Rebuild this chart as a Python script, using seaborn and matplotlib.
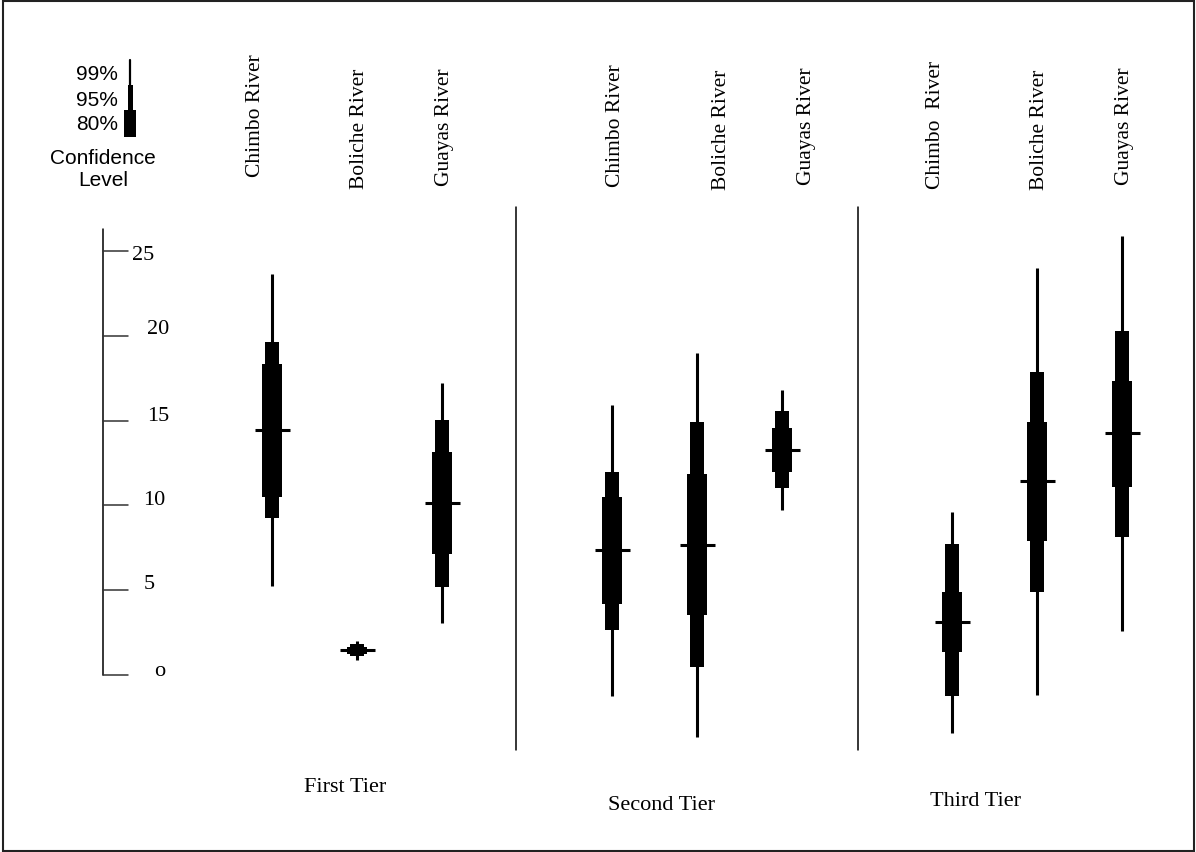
import numpy as np
import pandas as pd
import matplotlib
matplotlib.use("Agg")
import matplotlib.pyplot as plt
import seaborn as sns
from matplotlib.patches import Rectangle
from matplotlib.lines import Line2D

# ---------------- data ----------------
tiers = ["First Tier", "Second Tier", "Third Tier"]
rivers = ["Chimbo River", "Boliche River", "Guayas River"]
river_labels = ["Chimbo River", "Boliche River", "Guayas River",
                "Chimbo River", "Boliche River", "Guayas River",
                "Chimbo  River", "Boliche River", "Guayas River"]
median = [14.43, 1.47, 10.12, 7.35, 7.68, 13.27, 3.12, 11.43, 14.24]
lo80 = [10.51, 1.25, 7.11, 4.19, 3.52, 11.97, 1.33, 7.90, 11.09]
hi80 = [18.34, 1.68, 13.15, 10.51, 11.83, 14.55, 4.92, 14.94, 17.35]
lo95 = [9.28, 1.12, 5.21, 2.67, 0.45, 11.00, -1.22, 4.92, 8.14]
hi95 = [19.62, 1.80, 15.04, 11.99, 14.90, 15.55, 7.71, 17.87, 20.31]
lo99 = [5.25, 0.88, 3.05, -1.24, -3.64, 9.71, -3.41, -1.16, 2.62]
hi99 = [23.64, 2.02, 17.20, 15.92, 19.00, 16.80, 9.60, 23.98, 25.87]
ytick_values = [0, 5, 10, 15, 20, 25]
ytick_labels = ["o", "5", "10", "15", "20", "25"]
legend_labels = ["99%", "95%", "80%"]

# ---------------- layout ----------------
W, H = 1196, 852
sns.set_theme(style="white")
plt.rcParams["font.family"] = ["Liberation Serif", "DejaVu Serif"]
plt.rcParams["text.color"] = "black"
SANS = ["Liberation Sans", "DejaVu Sans"]

fig = plt.figure(figsize=(W / 100, H / 100), dpi=100)
ax = fig.add_axes([0, 0, 1, 1])
UX = 85.0      # px per category slot
UY = 16.96     # px per value unit
X0, Y0 = 272, 675
ax.set_xlim(-X0 / UX, (W - X0) / UX)
ax.set_ylim(-(H - Y0) / UY, Y0 / UY)

def fpx(x, y):
    return x / W, 1 - y / H

n_r = len(rivers)
df = pd.DataFrame({
    "tier": np.repeat(tiers, n_r),
    "river": rivers * len(tiers),
    "label": river_labels,
    "median": median, "lo80": lo80, "hi80": hi80,
    "lo95": lo95, "hi95": hi95, "lo99": lo99, "hi99": hi99,
})
df["pos"] = [ti * (n_r + 1) + ri for ti in range(len(tiers)) for ri in range(n_r)]

# 99% lines
ax.vlines(df["pos"], df["lo99"], df["hi99"], color="black", lw=2.2, zorder=2)
# 95% boxes
ax.bar(df["pos"], df["hi95"] - df["lo95"], bottom=df["lo95"], width=14.5 / UX,
       color="black", edgecolor="none", zorder=3)
# 80% boxes
ax.bar(df["pos"], df["hi80"] - df["lo80"], bottom=df["lo80"], width=19.5 / UX,
       color="black", edgecolor="none", zorder=4)
# medians
sns.scatterplot(data=df, x="pos", y="median", marker="_", s=(35 * 0.72) ** 2,
                color="black", linewidth=2.2, legend=False, ax=ax, zorder=5)
ax.set_axis_off()

# y axis
x_axis = (102.7 - X0) / UX
x_tick_end = (128 - X0) / UX
ax.plot([x_axis, x_axis], [0, (Y0 - 229) / UY], color="black", lw=1.1, zorder=1)
lab_dx = [26, 16, 15, 18.7, 18.7, 3.7]
lab_dy = [3, 6, 5, 4, 6, -4]
for v, lab, dx, dy in zip(ytick_values, ytick_labels, lab_dx, lab_dy):
    ax.plot([x_axis, x_tick_end], [v, v], color="#333", lw=1.1, zorder=1)
    ax.annotate(lab, xy=(x_tick_end, v), xytext=(dx, dy), textcoords="offset pixels",
                ha="left", va="center", fontsize=16, color="black")

# separators between tiers
for xs in [(516 - X0) / UX, (858 - X0) / UX]:
    ax.plot([xs, xs], [(Y0 - 750) / UY, (Y0 - 207) / UY], color="black", lw=1.1)

# rotated river labels
label_px = [(255, 115.5), (360, 129), (445, 127),
            (616, 126), (721, 129.5), (806, 126),
            (936, 124.5), (1040, 129.5), (1125, 126)]
for lab, (px, py) in zip(df["label"], label_px):
    fig.text(*fpx(px, py), lab, rotation=90, ha="center", va="center", fontsize=15.5,
             color="black")

# tier labels
tier_px = [(345, 787), (661, 805), (975, 802)]
for lab, (px, py) in zip(tiers, tier_px):
    fig.text(*fpx(px, py), lab, ha="center", va="center", fontsize=16, color="black")

# confidence key
for lab, py in zip(legend_labels, [74, 99, 124]):
    fig.text(*fpx(118, py + 1), lab, ha="right", va="center", fontsize=15, family=SANS,
             color="black")
fig.add_artist(Line2D([130 / W, 130 / W], [1 - 60 / H, 1 - 86 / H], transform=fig.transFigure,
                      color="black", lw=1.6))
fig.add_artist(Rectangle(fpx(127.7, 110), 5 / W, 25 / H, transform=fig.transFigure,
                         color="black", lw=0))
fig.add_artist(Rectangle(fpx(124.3, 137), 11.7 / W, 27 / H, transform=fig.transFigure,
                         color="black", lw=0))
fig.text(*fpx(102.5, 158), "Confidence", ha="center", va="center", fontsize=15, family=SANS,
         color="black")
fig.text(*fpx(103, 181), "Level", ha="center", va="center", fontsize=15, family=SANS,
         color="black")

# border
fig.add_artist(Rectangle(fpx(3, 851), (1194 - 3) / W, 850 / H, transform=fig.transFigure,
                         fill=False, lw=1.5, ec="#222"))

fig.savefig("out.png", dpi=100)
